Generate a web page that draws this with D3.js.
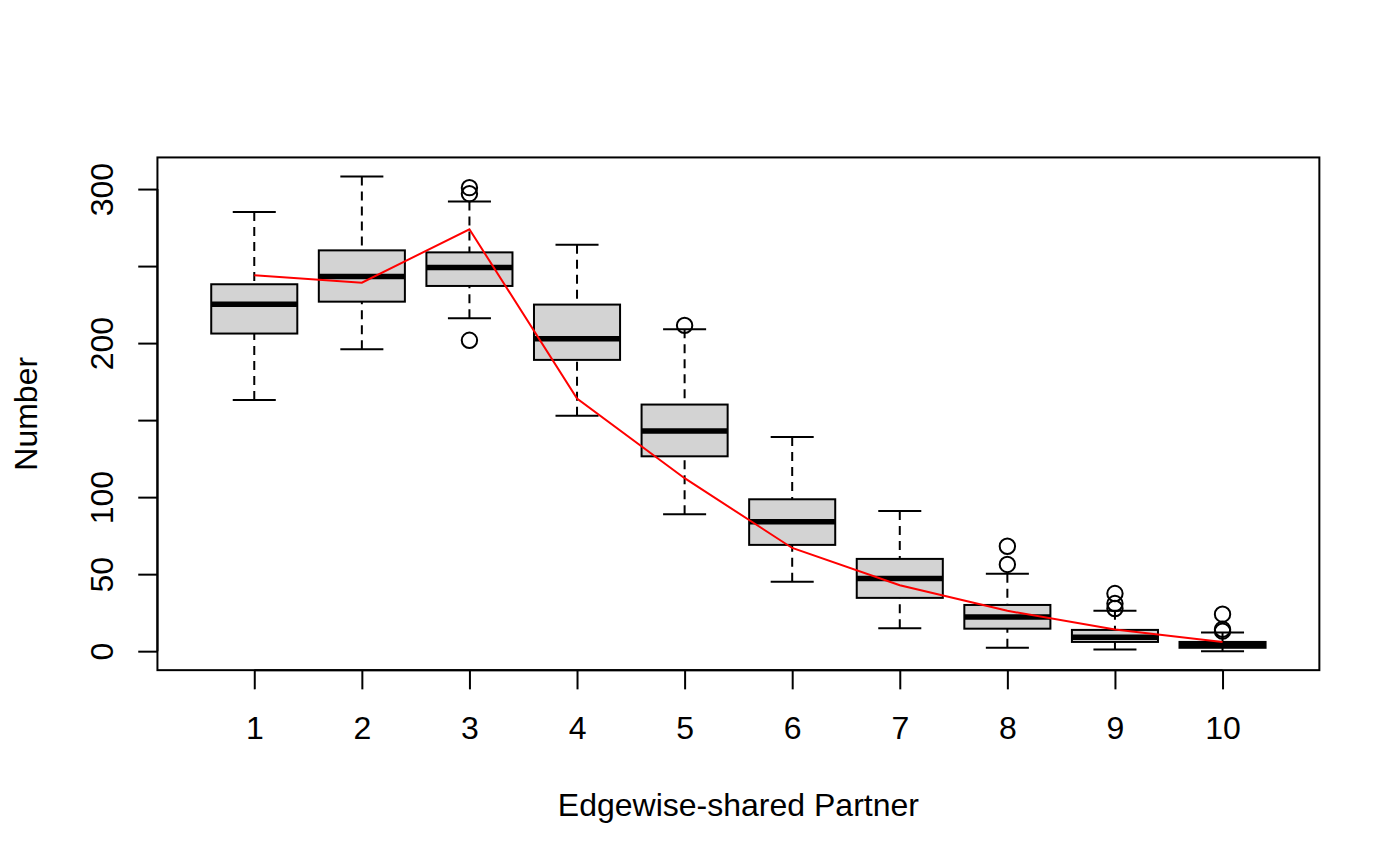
<!DOCTYPE html>
<html><head><meta charset="utf-8">
<script src="https://cdn.jsdelivr.net/npm/d3@7"></script>
<style>
body{margin:0;background:#fff}
text{font-family:"Liberation Sans", Arial, Helvetica, sans-serif; fill:#000}
</style>
</head><body>
<svg id="chart" width="1400" height="866"></svg>
<script>
// ---- data ----
const categories  = [1, 2, 3, 4, 5, 6, 7, 8, 9, 10];
const whiskerLow  = [163.1, 196.0, 216.1, 152.9, 88.9, 45.0, 14.9, 2.2, 1.1, 0];
const q1          = [206.2, 226.9, 237.1, 189.1, 126.5, 69.0, 34.6, 14.6, 6.0, 2.2];
const medians     = [225.2, 243.2, 249.0, 202.9, 143.0, 84.1, 47.2, 22.2, 9.1, 4.3];
const q3          = [238.2, 260.2, 258.9, 225.0, 160.1, 98.6, 59.9, 30.0, 13.8, 6.0];
const whiskerHigh = [285.1, 308.2, 292.0, 263.9, 209.0, 139.1, 91.0, 50.3, 26.2, 12.1];
const outliers    = [[], [], [300.9, 297.0, 201.8], [], [211.5], [], [], [68.1, 56.3], [37.4, 30.9, 27.7], [24.0, 14.2, 13.0]];
const observed    = [244.0, 239.2, 273.9, 164.0, 112.3, 67.0, 42.8, 26.2, 14.0, 6.0];
const yTicks      = [0, 50, 100, 150, 200, 250, 300];
const yTickLabels = ["0", "50", "100", "", "200", "", "300"];
const xTitle = "Edgewise-shared Partner";
const yTitle = "Number";

// ---- layout ----
const W = 1400, H = 866, lineH = 38.4;
const m = {top: 4.1 * lineH, right: 2.1 * lineH, bottom: 5.1 * lineH, left: 4.1 * lineH};
const svg = d3.select("#chart");
svg.append("rect").attr("width", W).attr("height", H).attr("fill", "#fff");

const xr = [d3.min(categories) - 0.5, d3.max(categories) + 0.5];
const xpad = (xr[1] - xr[0]) * 0.04;
const x = d3.scaleLinear().domain([xr[0] - xpad, xr[1] + xpad]).range([m.left, W - m.right]);

const allVals = whiskerLow.concat(whiskerHigh, outliers.flat(), observed);
const yr = [d3.min(allVals), d3.max(allVals)];
const ypad = (yr[1] - yr[0]) * 0.04;
const y = d3.scaleLinear().domain([yr[0] - ypad, yr[1] + ypad]).range([H - m.bottom, m.top]);

const boxW = 0.8, capW = 0.4;
const sw = 2;

const g = svg.append("g");
categories.forEach((c, i) => {
  const gb = g.append("g");
  // box
  gb.append("rect")
    .attr("x", x(c - boxW / 2)).attr("width", x(c + boxW / 2) - x(c - boxW / 2))
    .attr("y", y(q3[i])).attr("height", y(q1[i]) - y(q3[i]))
    .attr("fill", "#d3d3d3").attr("stroke", "#000").attr("stroke-width", sw);
  // whiskers (dashed)
  [[whiskerLow[i], q1[i]], [whiskerHigh[i], q3[i]]].forEach(([a, b]) => {
    gb.append("line").attr("x1", x(c)).attr("x2", x(c)).attr("y1", y(a)).attr("y2", y(b))
      .attr("stroke", "#000").attr("stroke-width", sw).attr("stroke-dasharray", "9,6");
  });
  // staples
  [whiskerLow[i], whiskerHigh[i]].forEach(v => {
    gb.append("line").attr("x1", x(c - capW / 2)).attr("x2", x(c + capW / 2)).attr("y1", y(v)).attr("y2", y(v))
      .attr("stroke", "#000").attr("stroke-width", sw);
  });
  // median
  gb.append("line").attr("x1", x(c - boxW / 2)).attr("x2", x(c + boxW / 2))
    .attr("y1", y(medians[i])).attr("y2", y(medians[i]))
    .attr("stroke", "#000").attr("stroke-width", 5.5);
  // outliers
  outliers[i].forEach(v => {
    gb.append("circle").attr("cx", x(c)).attr("cy", y(v)).attr("r", 7.7)
      .attr("fill", "none").attr("stroke", "#000").attr("stroke-width", sw);
  });
});

// red observed line
svg.append("path")
  .datum(observed)
  .attr("d", d3.line().x((d, i) => x(categories[i])).y(d => y(d)))
  .attr("fill", "none").attr("stroke", "#ff0000").attr("stroke-width", 2);

// frame
svg.append("rect")
  .attr("x", m.left).attr("y", m.top)
  .attr("width", W - m.right - m.left).attr("height", H - m.bottom - m.top)
  .attr("fill", "none").attr("stroke", "#000").attr("stroke-width", sw);

// x axis
const xAxis = svg.append("g").attr("transform", `translate(0,${H - m.bottom})`)
  .call(d3.axisBottom(x).tickValues(categories).tickFormat(d3.format("d")).tickSize(0.5 * lineH).tickSizeOuter(0));
xAxis.select(".domain").remove();
xAxis.selectAll(".tick line").attr("stroke", "#000").attr("stroke-width", sw);
xAxis.selectAll(".tick text").attr("y", 69).attr("dy", null).attr("font-size", 32)
  .attr("font-family", null).attr("fill", "#000");
xAxis.append("line").attr("x1", x(categories[0])).attr("x2", x(categories[categories.length - 1]))
  .attr("stroke", "#000").attr("stroke-width", sw);

// y axis
const yAxis = svg.append("g").attr("transform", `translate(${m.left},0)`)
  .call(d3.axisLeft(y).tickValues(yTicks).tickFormat((d, i) => yTickLabels[i]).tickSize(0.5 * lineH).tickSizeOuter(0));
yAxis.select(".domain").remove();
yAxis.selectAll(".tick line").attr("stroke", "#000").attr("stroke-width", sw);
yAxis.selectAll(".tick text").attr("x", null).attr("dy", null)
  .attr("transform", "translate(-44,0) rotate(-90)")
  .attr("text-anchor", "middle").attr("font-size", 32).attr("font-family", null).attr("fill", "#000");
yAxis.append("line").attr("y1", y(yTicks[0])).attr("y2", y(yTicks[yTicks.length - 1]))
  .attr("stroke", "#000").attr("stroke-width", sw);

// titles
svg.append("text").attr("x", (m.left + W - m.right) / 2).attr("y", H - m.bottom + 146)
  .attr("text-anchor", "middle").attr("font-size", 32).text(xTitle);
svg.append("text")
  .attr("transform", `translate(37,${(m.top + H - m.bottom) / 2}) rotate(-90)`)
  .attr("text-anchor", "middle").attr("font-size", 32).text(yTitle);
</script>
</body></html>
